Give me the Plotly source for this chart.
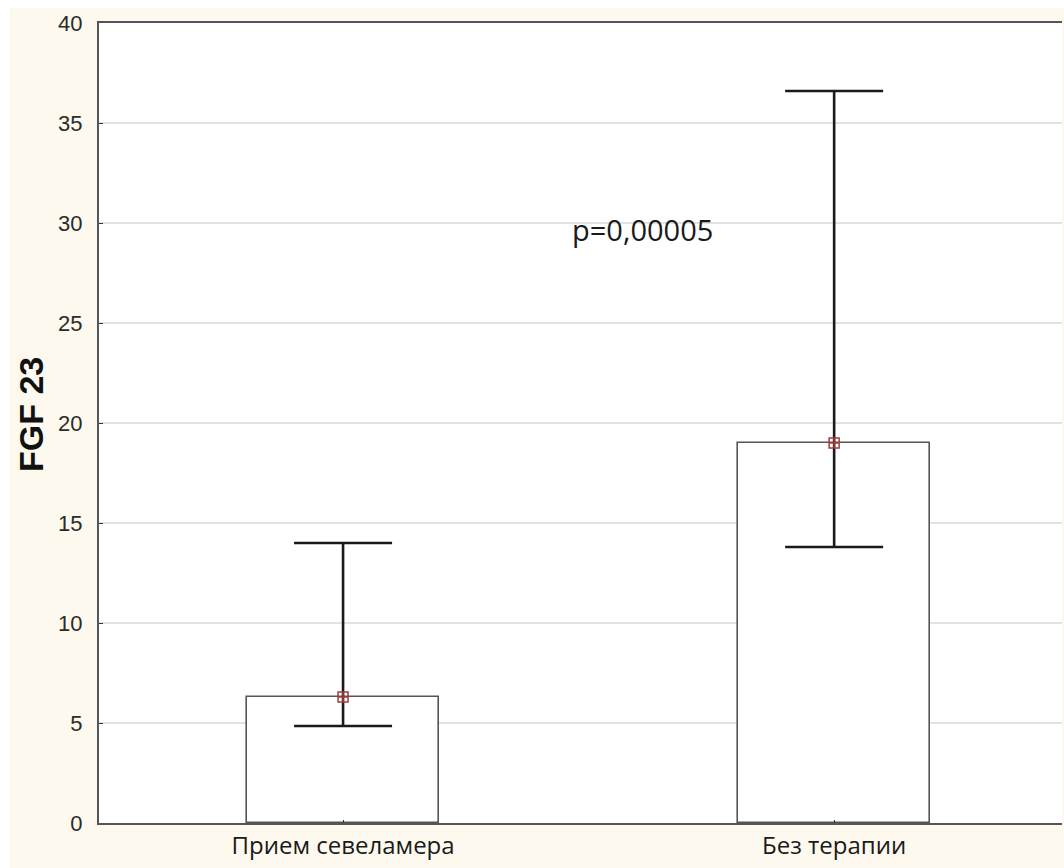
import plotly.graph_objects as go

# FGF 23 by group: mean with lower/upper bounds
groups = ["Прием севеламера", "Без терапии"]
group_pos = [0, 1]
means = [6.3, 19.0]
upper = [14.0, 36.6]
lower = [4.85, 13.8]
y_ticks = [0, 5, 10, 15, 20, 25, 30, 35, 40]
y_title = "FGF 23"
p_label = "p=0,00005"

err_plus = [u - m for u, m in zip(upper, means)]
err_minus = [m - l for m, l in zip(means, lower)]

W, H = 1064, 868
ML, MR, MT, MB = 99, 2, 23, 45
plot_w = W - ML - MR
plot_h = H - MT - MB

fig = go.Figure()

fig.add_trace(go.Bar(
    x=group_pos, y=means, width=0.39,
    marker=dict(color="white", line=dict(color="#555555", width=1.6)),
    showlegend=False, hoverinfo="skip",
))

fig.add_trace(go.Scatter(
    x=group_pos, y=means, mode="markers",
    marker=dict(symbol="square-cross-open", size=10, color="#a23a3a",
                line=dict(width=1.5)),
    error_y=dict(type="data", symmetric=False, array=err_plus,
                 arrayminus=err_minus, color="#1a1a1a", thickness=2.6,
                 width=49),
    showlegend=False,
))

fig.add_annotation(
    x=0.609, y=29.7, xref="x", yref="y", text=p_label, showarrow=False,
    font=dict(family="Open Sans", size=29, color="#1a1a1a"),
)

# rotated axis title placed next to the tick labels
fig.add_annotation(
    x=(31 - ML) / plot_w, y=20.4, xref="paper", yref="y",
    xanchor="center", yanchor="middle",
    text=f"<b>{y_title}</b>", textangle=-90, showarrow=False,
    font=dict(family="Arial, Liberation Sans", size=34, color="#111111"),
)

# thin white strips along the outer left and top edges
fig.add_shape(type="rect", xref="paper", yref="paper",
              x0=-ML / plot_w, x1=(-ML + 10) / plot_w,
              y0=-MB / plot_h, y1=(plot_h + MT) / plot_h,
              fillcolor="white", line=dict(width=0), layer="below")
fig.add_shape(type="rect", xref="paper", yref="paper",
              x0=-ML / plot_w, x1=(plot_w + MR) / plot_w,
              y0=(plot_h + MT - 8) / plot_h, y1=(plot_h + MT) / plot_h,
              fillcolor="white", line=dict(width=0), layer="below")

fig.update_layout(
    width=W, height=H,
    margin=dict(l=ML, r=MR, t=MT, b=MB),
    paper_bgcolor="#fdf9ee",
    plot_bgcolor="white",
    bargap=0,
    xaxis=dict(
        range=[-0.497, 1.464], tickvals=group_pos, ticktext=groups,
        showgrid=False, zeroline=False, showline=True, linecolor="#555555",
        linewidth=2.2, mirror=True, ticks="inside", ticklen=3,
        tickcolor="#333333",
        tickfont=dict(family="Open Sans", size=24, color="#1a1a1a"),
    ),
    yaxis=dict(
        range=[0, 40], tickvals=y_ticks,
        showgrid=True, gridcolor="#e3e3e3", gridwidth=1.5, zeroline=False,
        showline=True, linecolor="#555555", linewidth=2.2,
        ticks="inside", ticklen=4, tickcolor="#333333",
        ticklabelstandoff=10,
        tickfont=dict(family="Arial, Liberation Sans", size=22, color="#2b2b2b"),
    ),
)

fig.write_html("out.html")
